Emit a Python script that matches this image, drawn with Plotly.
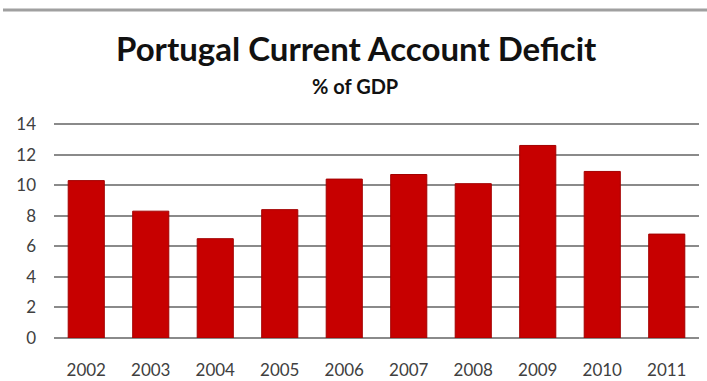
import plotly.graph_objects as go

# Portugal current account deficit, % of GDP
years = ["2002", "2003", "2004", "2005", "2006", "2007", "2008", "2009", "2010", "2011"]
deficit = [10.3, 8.3, 6.5, 8.4, 10.4, 10.7, 10.1, 12.6, 10.9, 6.8]
y_ticks = [0, 2, 4, 6, 8, 10, 12, 14]

W, H = 707, 381
m_l, m_r, m_t, m_b = 54, 8, 123, 43
plot_h = H - m_t - m_b
plot_w = W - m_l - m_r

def py(px):
    """pixel row (from top) -> paper y"""
    return (H - m_b - px) / plot_h

def px_(x):
    """pixel column -> paper x"""
    return (x - m_l) / plot_w

fig = go.Figure(
    go.Bar(
        x=years,
        y=deficit,
        marker=dict(color="#C70000", line=dict(color="#A30000", width=1)),
        width=0.56,
    )
)

font_family = "Lato, 'Open Sans', sans-serif"

fig.update_layout(
    width=W,
    height=H,
    margin=dict(l=m_l, r=m_r, t=m_t, b=m_b),
    paper_bgcolor="white",
    plot_bgcolor="white",
    showlegend=False,
    font=dict(family=font_family, color="#404040", size=17),
    xaxis=dict(
        automargin=False,
        showgrid=False,
        showline=False,
        zeroline=False,
        ticks="",
        ticklabelstandoff=20,
        tickfont=dict(size=17, color="#404040"),
    ),
    yaxis=dict(
        automargin=False,
        range=[0, 14.07],
        tickvals=y_ticks,
        showgrid=True,
        gridcolor="#8a8a8a",
        gridwidth=2,
        zeroline=True,
        zerolinecolor="#8a8a8a",
        zerolinewidth=2,
        showline=False,
        ticks="",
        ticklabelstandoff=17,
        tickfont=dict(size=17, color="#404040"),
    ),
    shapes=[
        dict(
            type="line",
            xref="paper",
            yref="paper",
            x0=px_(3),
            x1=px_(W),
            y0=py(10),
            y1=py(10),
            line=dict(color="#a0a0a0", width=3),
        )
    ],
    annotations=[
        dict(
            text="<b>Portugal Current Account Deficit</b>",
            xref="paper",
            yref="paper",
            x=px_(356),
            y=py(48),
            xanchor="center",
            yanchor="middle",
            showarrow=False,
            font=dict(family=font_family, size=33, color="#111111"),
        ),
        dict(
            text="<b>% of GDP</b>",
            xref="paper",
            yref="paper",
            x=px_(355),
            y=py(86),
            xanchor="center",
            yanchor="middle",
            showarrow=False,
            font=dict(family=font_family, size=20, color="#111111"),
        ),
    ],
)

fig.write_html("out.html")
